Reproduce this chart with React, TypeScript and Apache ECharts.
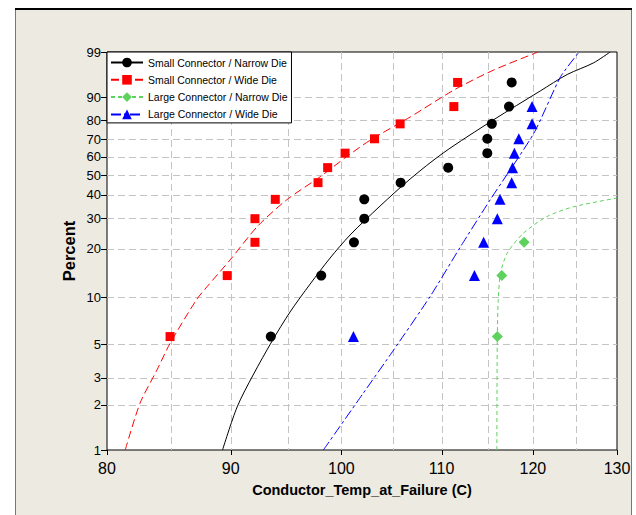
import React, { useEffect, useRef } from "react";
import * as echarts from "echarts";

// ---------- axis ticks ----------
const yTicks = [1, 2, 3, 5, 10, 20, 30, 40, 50, 60, 70, 80, 90, 99];
const xGridValues = [85, 90, 95, 100, 105, 110, 115, 120, 125];
const xTickLabels = [80, 90, 100, 110, 120, 130];

const seriesNames = [
  "Small Connector / Narrow Die",
  "Small Connector / Wide Die",
  "Large Connector / Narrow Die",
  "Large Connector / Wide Die",
];

// ---------- observed points (temperature, percent) ----------
const snTemp = [93.5, 98.1, 101.2, 102.2, 102.2, 105.8, 110.7, 114.9, 114.9, 115.4, 117.3, 117.6];
const snPct = [5.6, 13.7, 21.8, 29.8, 37.9, 46.0, 54.0, 62.1, 70.2, 78.2, 86.3, 94.4];

const swTemp = [84.95, 89.7, 92.1, 92.1, 93.9, 97.8, 98.7, 100.35, 103.2, 105.75, 111.3, 111.7];
const swPct = [5.6, 13.7, 21.8, 29.8, 37.9, 46.0, 54.0, 62.1, 70.2, 78.2, 86.3, 94.4];

const lnTemp = [116.0, 116.5, 119.0];
const lnPct = [5.6, 13.7, 21.8];

const lwTemp = [101.15, 113.5, 114.5, 116.0, 116.3, 117.6, 117.7, 117.9, 118.4, 119.9, 119.9];
const lwPct = [5.6, 13.7, 21.8, 29.8, 37.9, 46.0, 54.0, 62.1, 70.2, 78.2, 86.3];

// ---------- fitted lines ----------
const snFitTemp = [89.3, 90.55, 91.94, 93.62, 95.23, 97.07, 98.93, 100.83, 103.75, 106.76, 110.17, 115.55, 120.83, 123.98, 127.09, 129.16];
const snFitPct = [1, 1.93, 3.14, 5.24, 8.07, 12.14, 17.56, 24.06, 34.95, 47.88, 62.18, 80.13, 92.0, 96.15, 97.95, 99];

const swFitTemp = [81.4, 82.55, 83.9, 84.95, 87.1, 88.0, 89.95, 92.3, 94.9, 98.0, 100.5, 102.8, 106.8, 111.3, 115.6, 120.6];
const swFitPct = [1, 2.04, 3.39, 5.06, 9.62, 11.7, 17.1, 26.9, 37.6, 49.1, 60.1, 69.5, 81.7, 92.3, 96.95, 99];

const lnFitTemp = [115.95, 115.97, 116.0, 116.1, 116.35, 117.1, 118.9, 121.6, 124.7, 130];
const lnFitPct = [1, 3, 5.6, 9.6, 14.15, 18.8, 24.6, 30.6, 34.6, 38.5];

const lwFitTemp = [98.3, 102.1, 105.1, 108.8, 112.0, 115.2, 120.1, 123.2, 125.4];
const lwFitPct = [1, 2.38, 4.58, 10.1, 20.5, 37.6, 73.2, 95.7, 99];

// Weibull probability scale
const W = (p: number) => Math.log(-Math.log(1 - p / 100));
const pairs = (xs: number[], ps: number[]) => xs.map((x, i) => [x, W(ps[i])]);

const FONT = '"Liberation Sans", Arial, sans-serif';

export default function App() {
  const ref = useRef<HTMLDivElement>(null);

  useEffect(() => {
    if (!ref.current) return;
    const chart = echarts.init(ref.current, null, { renderer: "svg" });

    const colors = ["#000000", "#FF0000", "#5ED15E", "#0000FF"];
    const symbols = ["circle", "rect", "diamond", "triangle"];
    const symbolSizes = [10, 9, 11, 11];
    const lineTypes: any[] = ["solid", [8, 4], [4, 3], [10, 3, 3, 3]];
    const smooths = [0.3, 0.25, 0.25, 0.2];
    const fits = [
      pairs(snFitTemp, snFitPct),
      pairs(swFitTemp, swFitPct),
      pairs(lnFitTemp, lnFitPct),
      pairs(lwFitTemp, lwFitPct),
    ];
    const pts = [
      pairs(snTemp, snPct),
      pairs(swTemp, swPct),
      pairs(lnTemp, lnPct),
      pairs(lwTemp, lwPct),
    ];

    const dataSeries: any[] = [];
    for (let i = 0; i < 4; i++) {
      dataSeries.push({
        type: "line",
        name: seriesNames[i],
        data: fits[i],
        symbol: symbols[i],
        showSymbol: false,
        smooth: smooths[i],
        z: 2,
        silent: true,
        lineStyle: { color: colors[i], width: 1, type: lineTypes[i] },
        itemStyle: { color: colors[i], opacity: 1 },
      });
    }
    for (let i = 0; i < 4; i++) {
      dataSeries.push({
        type: "scatter",
        name: seriesNames[i],
        data: pts[i],
        symbol: symbols[i],
        symbolSize: symbolSizes[i],
        z: 3,
        itemStyle: { color: colors[i], opacity: 1 },
      });
    }

    const gridStroke = { stroke: "#C4C4C4", lineDash: [7, 4], lineWidth: 1 };

    const yTickSeries = {
      type: "custom",
      silent: true,
      z: 1,
      clip: false,
      data: yTicks.map((p) => [80, W(p), p]),
      renderItem: (params: any, api: any) => {
        const p = api.value(2);
        const pt = api.coord([80, api.value(1)]);
        const cs = params.coordSys;
        const y = Math.round(pt[1]) + 0.5;
        const children: any[] = [];
        if (p !== 1 && p !== 99) {
          children.push({
            type: "line",
            shape: { x1: cs.x, y1: y, x2: cs.x + cs.width, y2: y },
            style: gridStroke,
          });
        }
        children.push({
          type: "line",
          shape: { x1: cs.x - 6, y1: y, x2: cs.x, y2: y },
          style: { stroke: "#000", lineWidth: 1 },
        });
        children.push({
          type: "text",
          x: cs.x - 6,
          y: pt[1],
          style: {
            text: String(p),
            align: "right",
            verticalAlign: "middle",
            font: `13px ${FONT}`,
            fill: "#000",
          },
        });
        return { type: "group", children };
      },
    };

    const xGridSeries = {
      type: "custom",
      silent: true,
      z: 1,
      clip: false,
      data: xGridValues.map((v) => [v, W(50)]),
      renderItem: (params: any, api: any) => {
        const pt = api.coord([api.value(0), W(50)]);
        const cs = params.coordSys;
        const x = Math.round(pt[0]) + 0.5;
        return {
          type: "line",
          shape: { x1: x, y1: cs.y, x2: x, y2: cs.y + cs.height },
          style: gridStroke,
        };
      },
    };

    const xLabelSeries = {
      type: "custom",
      silent: true,
      z: 1,
      clip: false,
      data: xTickLabels.map((v) => [v, W(50)]),
      renderItem: (params: any, api: any) => {
        const v = api.value(0);
        const pt = api.coord([v, W(50)]);
        const cs = params.coordSys;
        const x = Math.round(pt[0]) + 0.5;
        const yb = cs.y + cs.height;
        return {
          type: "group",
          children: [
            {
              type: "line",
              shape: { x1: x, y1: yb, x2: x, y2: yb + 5 },
              style: { stroke: "#000", lineWidth: 1 },
            },
            {
              type: "text",
              x: pt[0],
              y: yb + 18,
              style: {
                text: String(v),
                align: "center",
                verticalAlign: "middle",
                font: `16px ${FONT}`,
                fill: "#000",
              },
            },
          ],
        };
      },
    };

    const option: any = {
      animation: false,
      backgroundColor: "#ffffff",
      graphic: [
        {
          type: "rect",
          z: -10,
          silent: true,
          shape: { x: 15.5, y: 9.5, width: 616, height: 520 },
          style: { fill: "#EDEAE1", stroke: "#777777", lineWidth: 1 },
        },
        {
          type: "line",
          z: -9,
          silent: true,
          shape: { x1: 15, y1: 9, x2: 632, y2: 9 },
          style: { stroke: "#000000", lineWidth: 2 },
        },
      ],
      grid: {
        left: 107,
        top: 52,
        width: 510,
        height: 398,
        show: true,
        backgroundColor: "#ffffff",
        borderColor: "#000000",
        borderWidth: 1,
      },
      xAxis: {
        type: "log",
        min: 80,
        max: 130,
        name: "Conductor_Temp_at_Failure (C)",
        nameLocation: "middle",
        nameGap: 32,
        nameTextStyle: { fontFamily: FONT, fontWeight: "bold", fontSize: 14.5, color: "#000" },
        axisLine: { show: false },
        axisTick: { show: false },
        axisLabel: { show: false },
        splitLine: { show: false },
      },
      yAxis: {
        type: "value",
        min: W(1),
        max: W(99),
        name: "Percent",
        nameLocation: "middle",
        nameGap: 30,
        nameTextStyle: { fontFamily: FONT, fontWeight: "bold", fontSize: 16.5, color: "#000" },
        axisLine: { show: false },
        axisTick: { show: false },
        axisLabel: { show: false },
        splitLine: { show: false },
      },
      legend: {
        left: 107,
        top: 52,
        orient: "vertical",
        backgroundColor: "#ffffff",
        borderColor: "#000000",
        borderWidth: 1,
        borderRadius: 0,
        padding: [5, 4, 3, 3],
        itemWidth: 32,
        itemHeight: 12,
        itemGap: 6.3,
        textStyle: { fontFamily: FONT, fontSize: 10.5, color: "#000" },
        data: seriesNames,
      },
      series: [xGridSeries, yTickSeries, xLabelSeries, ...dataSeries],
    };

    chart.setOption(option);
    return () => chart.dispose();
  }, []);

  return (
    <div
      ref={ref}
      style={{ position: "fixed", left: 0, top: 0, width: 636, height: 515 }}
    />
  );
}
